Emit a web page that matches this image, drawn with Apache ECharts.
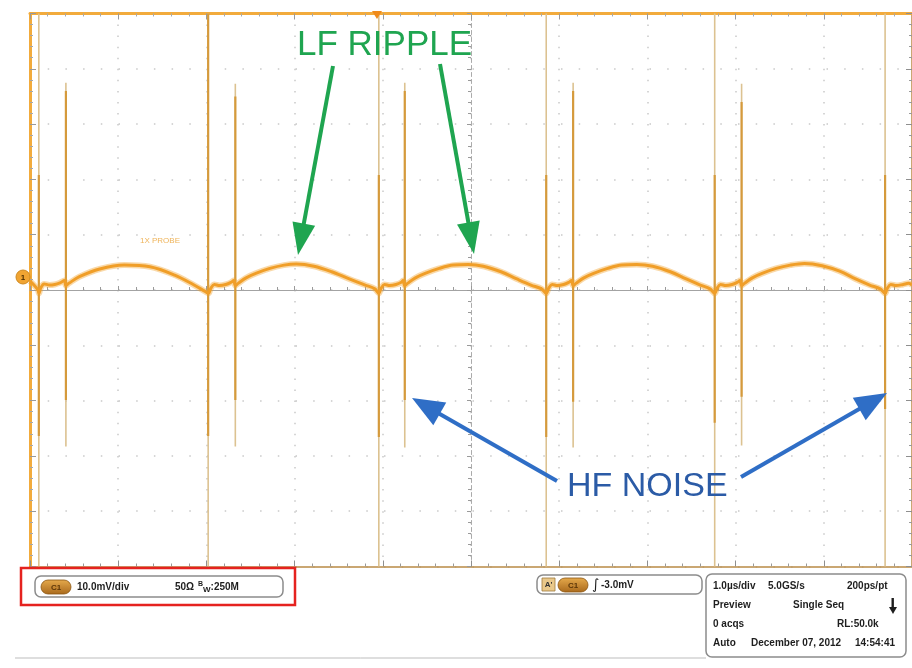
<!DOCTYPE html>
<html>
<head>
<meta charset="utf-8">
<script src="https://cdn.jsdelivr.net/npm/echarts@6/dist/echarts.min.js"></script>
<style>
    html, body { margin: 0; padding: 0; background: #fff; }
    #scope { width: 912px; height: 668px; }
</style>
</head>
<body>
<div id="scope"></div>
<script>
    // screen: 1.0 us/div horizontally, 10.0 mV/div vertically, 10 x 10 divisions
    var timeMin = -5, timeMax = 5;
    var mvMin = -50, mvMax = 50;

    // CH1 trace (us, mV)
    var traceTime = [
        -5.00, -4.95, -4.91, -4.898, -4.88, -4.84, -4.78, -4.72, -4.66, -4.61, -4.593, -4.56, -4.44, -4.21, -3.93, -3.64, -3.36, -3.14, -3.02,
        -2.977, -2.95, -2.91, -2.85, -2.78, -2.72, -2.69, -2.672, -2.64, -2.55, -2.44, -2.28, -2.12, -1.98, -1.78, -1.58, -1.38, -1.20, -1.09,
        -1.045, -1.02, -0.98, -0.92, -0.85, -0.79, -0.77, -0.751, -0.72, -0.63, -0.52, -0.36, -0.20, -0.03, 0.14, 0.34, 0.52, 0.68, 0.80,
        0.853, 0.88, 0.92, 0.98, 1.05, 1.11, 1.14, 1.158, 1.19, 1.28, 1.39, 1.55, 1.71, 1.88, 2.06, 2.26, 2.44, 2.60, 2.71,
        2.763, 2.79, 2.83, 2.89, 2.96, 3.02, 3.05, 3.068, 3.10, 3.19, 3.30, 3.46, 3.62, 3.78, 3.98, 4.18, 4.36, 4.52, 4.64,
        4.695, 4.72, 4.76, 4.82, 4.90, 4.96, 5.00
    ];
    var traceMv = [
        1.6, 0.8, 0.0, -0.6, 0.3, 1.1, 0.9, 1.0, 1.3, 1.7, 0.8, 1.2, 2.4, 3.8, 4.5, 4.2, 2.7, 0.9, -0.2,
        -0.6, 0.3, 1.0, 0.8, 1.0, 1.4, 1.7, 0.8, 1.2, 2.2, 3.0, 3.9, 4.5, 4.7, 4.3, 3.3, 2.0, 0.9, 0.2,
        -0.6, 0.3, 1.0, 0.8, 1.0, 1.4, 1.7, 0.8, 1.2, 2.2, 3.0, 3.9, 4.5, 4.6, 4.3, 3.3, 2.0, 0.9, 0.2,
        -0.6, 0.3, 1.0, 0.8, 1.0, 1.4, 1.7, 0.8, 1.2, 2.2, 3.0, 3.9, 4.5, 4.6, 4.3, 3.3, 2.0, 0.9, 0.2,
        -0.6, 0.3, 1.0, 0.8, 1.0, 1.4, 1.7, 0.8, 1.2, 2.2, 3.0, 3.9, 4.5, 4.8, 4.4, 3.4, 2.0, 0.9, 0.2,
        -0.6, 0.3, 1.0, 0.8, 1.0, 1.2, 0.9
    ];

    // switching edges: tall spikes run off the screen, the short ones follow ~0.31 us later
    var mainSpikeTime = [-4.90, -2.98, -1.045, 0.853, 2.763, 4.695];
    var mainSpikeCoreTop = [20.8, 50, 20.8, 20.8, 20.8, 20.8];
    var mainSpikeCoreBottom = [-26.4, -26.4, -26.6, -26.6, -24.0, -21.5];

    var hfSpikeTime = [-4.593, -2.672, -0.751, 1.158, 3.068];
    var hfSpikeTop = [37.5, 37.3, 37.5, 37.5, 37.3];
    var hfSpikeCoreTop = [36.0, 35.0, 36.0, 36.0, 34.0];
    var hfSpikeCoreBottom = [-19.9, -19.9, -19.9, -20.2, -19.3];
    var hfSpikeBottom = [-28.3, -28.3, -28.5, -28.5, -28.1];

    function pairs(xs, ys) {
        var out = [];
        for (var i = 0; i < xs.length; i++) out.push([xs[i], ys[i]]);
        return out;
    }
    function segments(times, tops, bottoms) {
        var out = [];
        for (var i = 0; i < times.length; i++) {
            out.push([times[i], tops[i]], [times[i], bottoms[i]], [times[i], '-']);
        }
        return out;
    }
    function fill(n, v) {
        var a = [];
        for (var i = 0; i < n; i++) a.push(v);
        return a;
    }

    // annotation arrow (line + head), screen pixels
    function arrow(x1, y1, x2, y2, color, width, headLen, headW) {
        var dx = x2 - x1, dy = y2 - y1;
        var len = Math.sqrt(dx * dx + dy * dy);
        var ux = dx / len, uy = dy / len;
        var bx = x2 - ux * headLen, by = y2 - uy * headLen;
        var px = -uy * headW / 2, py = ux * headW / 2;
        return [
            { type: 'line', shape: { x1: x1, y1: y1, x2: bx + ux * 2, y2: by + uy * 2 },
              style: { stroke: color, lineWidth: width }, z: 50 },
            { type: 'polygon', shape: { points: [[x2, y2], [bx + px, by + py], [bx - px, by - py]] },
              style: { fill: color }, z: 50 }
        ];
    }

    var boldFont = 'bold 10px "Liberation Sans", Arial, sans-serif';
    function label(x, y, text, extra) {
        var st = { text: text, x: x, y: y, font: boldFont, fill: '#1e1e1e', verticalAlign: 'middle' };
        if (extra) for (var k in extra) st[k] = extra[k];
        return { type: 'text', style: st, z: 60 };
    }
    function pill(x, y, w, h) {
        return [
            { type: 'rect', shape: { x: x, y: y, width: w, height: h, r: h / 2 },
              style: { fill: new echarts.graphic.LinearGradient(0, 0, 0, 1, [
                  { offset: 0, color: '#e6aa4c' }, { offset: 1, color: '#a9691c' }]),
                  stroke: '#8a5512', lineWidth: 0.8 }, z: 60 },
            { type: 'text', style: { text: 'C1', x: x + w / 2, y: y + h / 2 + 0.5, align: 'center',
              verticalAlign: 'middle', font: 'bold 8px "Liberation Sans", Arial, sans-serif', fill: '#5b3608' }, z: 61 }
        ];
    }

    var graphics = [];
    // annotations
    graphics.push({ type: 'text', style: { text: 'LF RIPPLE', x: 297, y: 45, verticalAlign: 'middle',
        font: '35px "Liberation Sans", Arial, sans-serif', fill: '#1fa550' }, z: 50 });
    graphics = graphics.concat(arrow(333, 66, 298, 255, '#1fa550', 4, 32, 23));
    graphics = graphics.concat(arrow(440, 64, 474, 254, '#1fa550', 4, 32, 23));
    graphics.push({ type: 'text', style: { text: 'HF NOISE', x: 567, y: 487, verticalAlign: 'middle',
        font: '34px "Liberation Sans", Arial, sans-serif', fill: '#2b5ba6' }, z: 50 });
    graphics = graphics.concat(arrow(557, 481, 412, 398, '#2f6ec6', 4, 32, 26));
    graphics = graphics.concat(arrow(741, 477, 887, 393, '#2f6ec6', 4, 32, 26));

    // channel marker and probe label
    graphics.push({ type: 'circle', shape: { cx: 23, cy: 277, r: 7 }, style: { fill: '#f0a432', stroke: '#d08a20' }, z: 55 });
    graphics.push({ type: 'text', style: { text: '1', x: 23, y: 277.5, align: 'center', verticalAlign: 'middle',
        font: 'bold 8px "Liberation Sans", Arial, sans-serif', fill: '#4a2c00' }, z: 56 });
    graphics.push({ type: 'text', style: { text: '1X PROBE', x: 140, y: 241, verticalAlign: 'middle',
        font: '8px "Liberation Sans", Arial, sans-serif', fill: '#efb45a' }, z: 40 });
    // trigger position marker
    graphics.push({ type: 'polygon', shape: { points: [[372, 11], [382, 11], [377, 19]] }, style: { fill: '#f08a1a' }, z: 55 });

    // readout panel
    graphics.push({ type: 'line', shape: { x1: 15, y1: 658, x2: 706, y2: 658 }, style: { stroke: '#bdbdbd', lineWidth: 1 }, z: 40 });
    graphics.push({ type: 'rect', shape: { x: 35, y: 576, width: 248, height: 21, r: 6 },
        style: { fill: '#fff', stroke: '#8c8c8c', lineWidth: 1.5 }, z: 55 });
    graphics = graphics.concat(pill(41, 580, 30, 14));
    graphics.push(label(77, 587.5, '10.0mV/div'));
    graphics.push(label(175, 587.5, '50\u03A9'));
    graphics.push({ type: 'text', style: { text: '{b|B}{w|W}{v|:250M}', x: 198, y: 587.5, verticalAlign: 'middle',
        rich: {
            b: { font: 'bold 7px "Liberation Sans", Arial, sans-serif', fill: '#1e1e1e', verticalAlign: 'top', padding: [0, 0, 5, 0] },
            w: { font: 'bold 8px "Liberation Sans", Arial, sans-serif', fill: '#1e1e1e', padding: [5, 0, 0, 0] },
            v: { font: boldFont, fill: '#1e1e1e' }
        } }, z: 60 });
    graphics.push({ type: 'rect', shape: { x: 21, y: 568, width: 274, height: 37 },
        style: { fill: 'none', stroke: '#e5221f', lineWidth: 2.5 }, z: 58 });

    graphics.push({ type: 'rect', shape: { x: 537, y: 575, width: 165, height: 19, r: 6 },
        style: { fill: '#fff', stroke: '#8c8c8c', lineWidth: 1.5 }, z: 55 });
    graphics.push({ type: 'rect', shape: { x: 542, y: 578, width: 13, height: 13 },
        style: { fill: '#e9c88a', stroke: '#a07a3a', lineWidth: 0.8 }, z: 60 });
    graphics.push({ type: 'text', style: { text: "A'", x: 548.5, y: 585, align: 'center', verticalAlign: 'middle',
        font: 'bold 8px "Liberation Sans", Arial, sans-serif', fill: '#333' }, z: 61 });
    graphics = graphics.concat(pill(558, 578, 30, 14));
    graphics.push({ type: 'text', style: { text: '\u222B', x: 592, y: 585, verticalAlign: 'middle',
        font: 'italic 14px "DejaVu Sans", sans-serif', fill: '#1e1e1e' }, z: 60 });
    graphics.push(label(601, 585, '-3.0mV'));

    graphics.push({ type: 'rect', shape: { x: 706, y: 574, width: 200, height: 83, r: 6 },
        style: { fill: '#fff', stroke: '#8c8c8c', lineWidth: 1.5 }, z: 55 });
    graphics.push(label(713, 586, '1.0\u00B5s/div'));
    graphics.push(label(768, 586, '5.0GS/s'));
    graphics.push(label(847, 586, '200ps/pt'));
    graphics.push(label(713, 605, 'Preview'));
    graphics.push(label(793, 605, 'Single Seq'));
    graphics.push({ type: 'rect', shape: { x: 891.5, y: 598, width: 2.4, height: 12 }, style: { fill: '#1e1e1e' }, z: 60 });
    graphics.push({ type: 'polygon', shape: { points: [[889, 607], [897, 607], [893, 614]] }, style: { fill: '#1e1e1e' }, z: 60 });
    graphics.push(label(713, 624, '0 acqs'));
    graphics.push(label(837, 624, 'RL:50.0k'));
    graphics.push(label(713, 643, 'Auto'));
    graphics.push(label(751, 643, 'December 07, 2012'));
    graphics.push(label(855, 643, '14:54:41'));

    var gridLine = '#c9c9c9';
    var noLabel = { show: false };

    function valueAxis(extra, isX) {
        var a = {
            type: 'value',
            min: isX ? timeMin : mvMin,
            max: isX ? timeMax : mvMax,
            interval: isX ? 1 : 10,
            axisLabel: noLabel,
            splitLine: { show: false }
        };
        for (var k in extra) a[k] = extra[k];
        return a;
    }

    var option = {
        backgroundColor: '#fff',
        animation: false,
        grid: { left: 30, top: 13.5, width: 885, height: 553 },
        xAxis: [
            // bottom edge
            valueAxis({
                position: 'bottom',
                axisLine: { onZero: false, lineStyle: { color: '#b98a45', width: 1.5 } },
                axisTick: { inside: true, length: 6, lineStyle: { color: '#8f8f8f' } },
                minorTick: { show: true, splitNumber: 5, length: 3, lineStyle: { color: '#9a9a9a' } },
                splitLine: { show: true, lineStyle: { color: gridLine, width: 1.5, type: [1.5, 9.56] } }
            }, true),
            // top edge
            valueAxis({
                position: 'top',
                axisLine: { onZero: false, lineStyle: { color: '#f2ab3c', width: 3 } },
                axisTick: { inside: true, length: 6, lineStyle: { color: '#9a9a9a' } },
                minorTick: { show: true, splitNumber: 5, length: 3, lineStyle: { color: '#a8a8a8' } }
            }, true),
            // centre horizontal
            valueAxis({
                axisLine: { onZero: true, onZeroAxisIndex: 0, lineStyle: { color: '#a3a3a3', width: 1.2 } },
                axisTick: { inside: false, length: 4, lineStyle: { color: '#9a9a9a' } },
                minorTick: { show: true, splitNumber: 5, length: 3, lineStyle: { color: '#9a9a9a' } }
            }, true)
        ],
        yAxis: [
            // left edge
            valueAxis({
                position: 'left',
                axisLine: { onZero: false, lineStyle: { color: '#f2ab3c', width: 3 } },
                axisTick: { inside: true, length: 6, lineStyle: { color: '#9a9a9a' } },
                minorTick: { show: true, splitNumber: 5, length: 3, lineStyle: { color: '#a8a8a8' } },
                splitLine: { show: true, lineStyle: { color: gridLine, width: 1.5, type: [1.5, 16.2] } }
            }, false),
            // right edge
            valueAxis({
                position: 'right',
                axisLine: { onZero: false, lineStyle: { color: '#b98a45', width: 1.5 } },
                axisTick: { inside: true, length: 6, lineStyle: { color: '#8f8f8f' } },
                minorTick: { show: true, splitNumber: 5, length: 3, lineStyle: { color: '#9a9a9a' } }
            }, false),
            // centre vertical
            valueAxis({
                position: 'left',
                axisLine: { onZero: true, onZeroAxisIndex: 0, lineStyle: { color: '#ababab', width: 1, type: [4, 3] } },
                axisTick: { inside: false, length: 4, lineStyle: { color: '#9a9a9a' } },
                minorTick: { show: true, splitNumber: 5, length: 3, lineStyle: { color: '#9a9a9a' } }
            }, false)
        ],
        series: [
            {
                name: 'edge spikes', type: 'line', xAxisIndex: 0, yAxisIndex: 0,
                data: segments(mainSpikeTime, fill(mainSpikeTime.length, mvMax), fill(mainSpikeTime.length, mvMin)),
                showSymbol: false, connectNulls: false, clip: true,
                lineStyle: { color: '#dcc291', width: 1.6 }, z: 3
            },
            {
                name: 'edge spike core', type: 'line', xAxisIndex: 0, yAxisIndex: 0,
                data: segments(mainSpikeTime, mainSpikeCoreTop, mainSpikeCoreBottom),
                showSymbol: false, connectNulls: false, clip: true,
                lineStyle: { color: '#d59a3c', width: 2.2 }, z: 4
            },
            {
                name: 'hf spikes', type: 'line', xAxisIndex: 0, yAxisIndex: 0,
                data: segments(hfSpikeTime, hfSpikeTop, hfSpikeBottom),
                showSymbol: false, connectNulls: false, clip: true,
                lineStyle: { color: '#dcc291', width: 1.6 }, z: 3
            },
            {
                name: 'hf spike core', type: 'line', xAxisIndex: 0, yAxisIndex: 0,
                data: segments(hfSpikeTime, hfSpikeCoreTop, hfSpikeCoreBottom),
                showSymbol: false, connectNulls: false, clip: true,
                lineStyle: { color: '#d59a3c', width: 2.2 }, z: 4
            },
            {
                name: 'CH1 halo', type: 'line', xAxisIndex: 0, yAxisIndex: 0,
                data: pairs(traceTime, traceMv), smooth: 0.35, showSymbol: false,
                lineStyle: { color: 'rgba(240,160,40,0.4)', width: 6 }, z: 5
            },
            {
                name: 'CH1', type: 'line', xAxisIndex: 0, yAxisIndex: 0,
                data: pairs(traceTime, traceMv), smooth: 0.35, showSymbol: false,
                lineStyle: { color: '#f09e28', width: 3 }, z: 6
            }
        ],
        graphic: graphics
    };

    var myChart = echarts.init(document.getElementById('scope'));
    myChart.setOption(option);
</script>
</body>
</html>
